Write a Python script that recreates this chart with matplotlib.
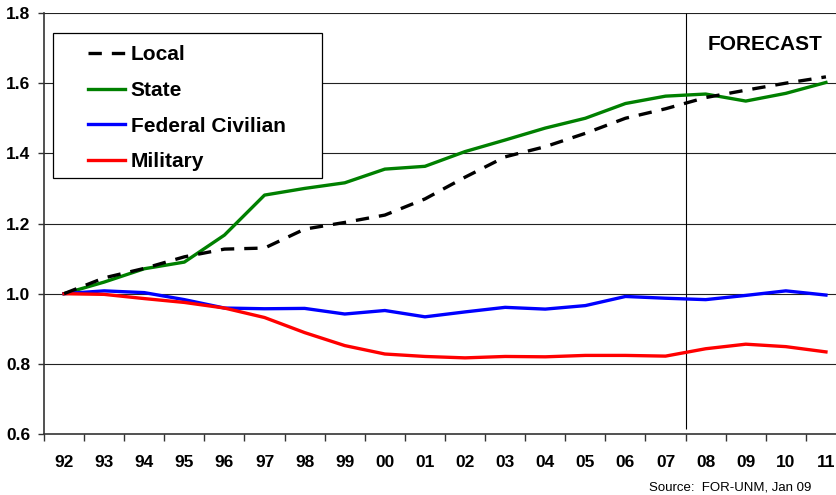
import matplotlib
matplotlib.use("Agg")
import matplotlib.pyplot as plt
from matplotlib.patches import Rectangle

plt.rcParams["font.family"] = ["Liberation Sans", "DejaVu Sans"]

# Data (index, 1992 = 1.0)
years = ["92", "93", "94", "95", "96", "97", "98", "99", "00", "01",
         "02", "03", "04", "05", "06", "07", "08", "09", "10", "11"]
local = [1.00, 1.045, 1.072, 1.105, 1.127, 1.13, 1.184, 1.203, 1.224, 1.27,
         1.332, 1.39, 1.419, 1.457, 1.50, 1.527, 1.559, 1.58, 1.60, 1.618]
state = [1.00, 1.033, 1.071, 1.09, 1.167, 1.281, 1.30, 1.316, 1.355, 1.363,
         1.405, 1.438, 1.472, 1.50, 1.542, 1.563, 1.569, 1.549, 1.571, 1.602]
federal = [1.00, 1.008, 1.003, 0.983, 0.959, 0.957, 0.958, 0.942, 0.952, 0.934,
           0.948, 0.961, 0.956, 0.966, 0.992, 0.987, 0.983, 0.995, 1.008, 0.996]
military = [1.00, 0.998, 0.986, 0.975, 0.959, 0.932, 0.889, 0.852, 0.828, 0.821,
            0.817, 0.821, 0.820, 0.824, 0.824, 0.822, 0.843, 0.856, 0.849, 0.834]
yticks = [0.6, 0.8, 1.0, 1.2, 1.4, 1.6, 1.8]
forecast_start = 15.5  # between 07 and 08

fig = plt.figure(figsize=(8.37, 4.95), dpi=100)
ax = fig.add_axes([44 / 837, 61 / 495, 802 / 837, 421 / 495])

x = list(range(len(years)))
ax.plot(x, state, color="#008000", lw=2.4, label="State", zorder=3)
ax.plot(x, federal, color="#0000FF", lw=2.4, label="Federal Civilian", zorder=3)
ax.plot(x, military, color="#FF0000", lw=2.4, label="Military", zorder=4)
ax.plot(x, local, color="black", lw=2.4, dashes=(4, 3), dash_capstyle="butt",
        label="Local", zorder=5)

ax.set_xlim(-0.5, len(years) - 0.5)
ax.set_ylim(0.6, 1.8)

# horizontal grid
for yv in yticks[1:]:
    ax.axhline(yv, color="#222222", lw=0.8, zorder=1)

# forecast divider
ax.vlines(forecast_start, 0.613, 1.8, color="black", lw=0.8, zorder=2)

# axes styling
for s in ["top", "right"]:
    ax.spines[s].set_visible(False)
for s in ["left", "bottom"]:
    ax.spines[s].set_color("#333333")
    ax.spines[s].set_linewidth(1.2)

ax.set_yticks(yticks)
ax.set_yticklabels([f"{v:.1f}" for v in yticks], fontsize=12.5, fontweight="bold")
ax.tick_params(axis="y", length=4, width=1, pad=6, color="#333333")

# ticks between categories, labels centred on them
ax.set_xticks([i - 0.5 for i in range(len(years) + 1)])
ax.set_xticklabels([])
ax.set_xticks(x, minor=True)
ax.set_xticklabels(years, minor=True, fontsize=12.5, fontweight="bold")
ax.tick_params(axis="x", which="major", length=5, width=1, color="#333333")
ax.tick_params(axis="x", which="minor", length=0, pad=15)

# legend with a separate frame
frame = Rectangle((9 / 802, 256 / 421), 269 / 802, 145 / 421,
                  transform=ax.transAxes, facecolor="white", edgecolor="black",
                  lw=0.9, zorder=6)
ax.add_patch(frame)
handles, labels = ax.get_legend_handles_labels()
order = [3, 0, 1, 2]
leg = ax.legend([handles[i] for i in order], [labels[i] for i in order],
                loc="upper left", bbox_to_anchor=(44 / 802, 0.923),
                frameon=False, borderpad=0, borderaxespad=0,
                handlelength=1.8, handletextpad=0.25, labelspacing=0.8,
                prop={"size": 15, "weight": "bold"})
leg.set_zorder(7)

fig.text(765 / 837, 1 - 45 / 495, "FORECAST", fontsize=15, fontweight="bold",
         ha="center", va="center")
fig.text(811 / 837, 1 - 487 / 495, "Source:  FOR-UNM, Jan 09", fontsize=9.5,
         ha="right", va="center")

fig.savefig("out.png", dpi=100)
